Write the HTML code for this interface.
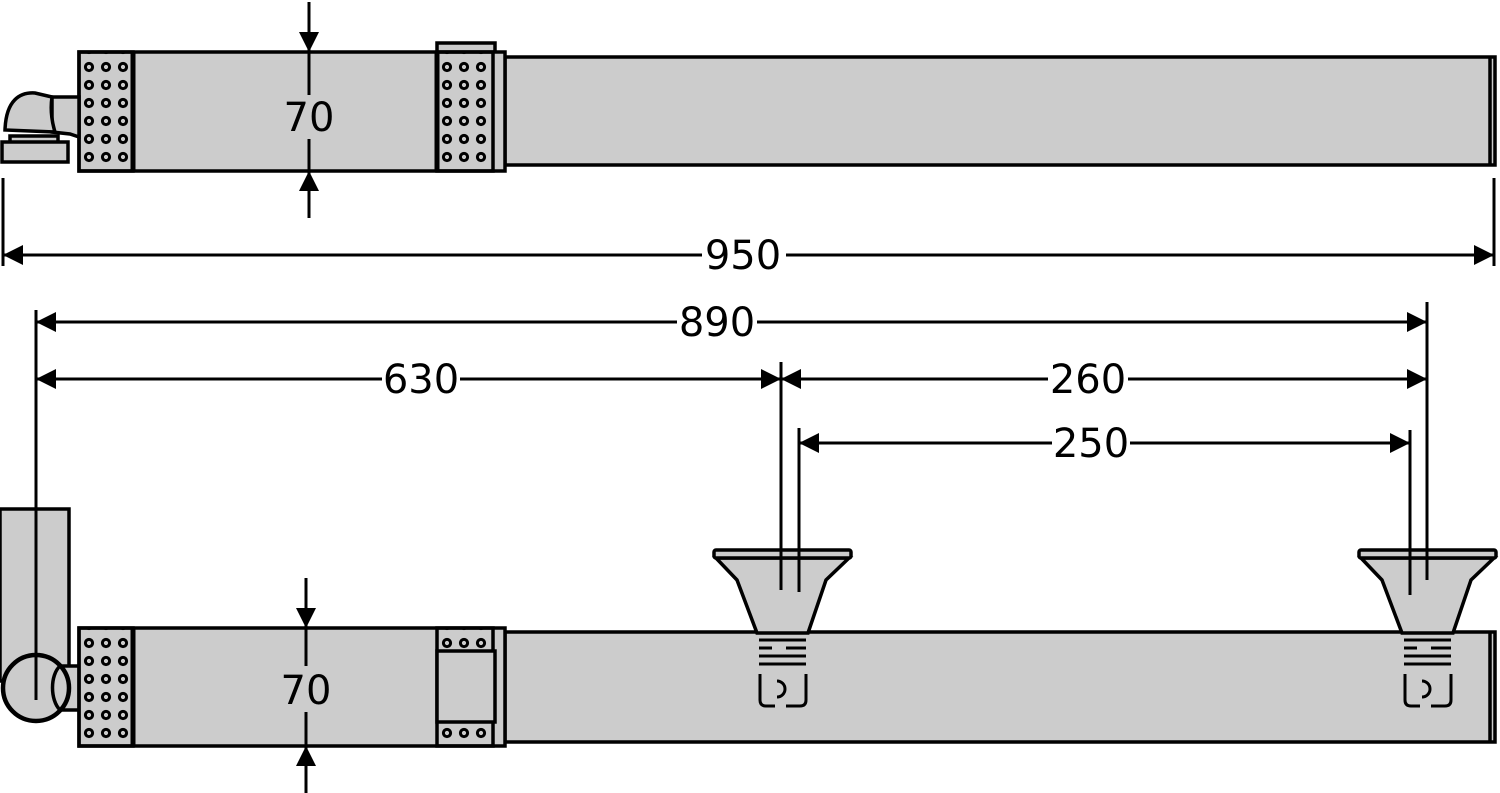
<!DOCTYPE html>
<html><head><style>body{margin:0;background:#fff}svg{display:block}</style></head><body>
<svg width="1500" height="793" viewBox="0 0 1500 793" xmlns="http://www.w3.org/2000/svg" font-family="'DejaVu Sans','Liberation Sans',sans-serif">
<defs>
<marker id="a" viewBox="0 0 10 10" refX="10" refY="5" markerWidth="20" markerHeight="20" markerUnits="userSpaceOnUse" orient="auto-start-reverse"><path d="M0,0 L10,5 L0,10z" fill="#000"/></marker>
<pattern id="dots" x="79" y="58" width="17" height="18" patternUnits="userSpaceOnUse"><circle cx="10" cy="9" r="3.6" fill="none" stroke="#000" stroke-width="3"/></pattern>
<pattern id="dots2" x="437" y="58" width="17" height="18" patternUnits="userSpaceOnUse"><circle cx="10" cy="9" r="3.6" fill="none" stroke="#000" stroke-width="3"/></pattern>
<pattern id="dots3" x="79" y="634" width="17" height="18" patternUnits="userSpaceOnUse"><circle cx="10" cy="9" r="3.6" fill="none" stroke="#000" stroke-width="3"/></pattern>
<pattern id="dots4" x="437" y="634" width="17" height="18" patternUnits="userSpaceOnUse"><circle cx="10" cy="9" r="3.6" fill="none" stroke="#000" stroke-width="3"/></pattern>
</defs>
<g stroke="#000" stroke-width="3.5" fill="#ccc">
<rect x="505" y="57" width="990" height="108"/>
<line x1="1490" y1="57" x2="1490" y2="165"/>
<rect x="437" y="43" width="58" height="10"/>
<rect x="79" y="52" width="426" height="119"/>
<rect x="79" y="52" width="54" height="119" fill="url(#dots)"/>
<rect x="437" y="52" width="56" height="119" fill="url(#dots2)"/>
<line x1="133" y1="52" x2="133" y2="171" stroke-width="5"/>
<line x1="437" y1="52" x2="437" y2="171" stroke-width="5"/>
<path d="M52,97 L79,97 L79,137 L70,134 L52,132z"/>
<path d="M5,130 C6,100 20,92 35,93 L52,97 C50,110 52,122 55,132 Z"/>
<rect x="10" y="136" width="48" height="7"/>
<rect x="2" y="142" width="66" height="20"/>
<rect x="505" y="632" width="990" height="110"/>
<line x1="1490" y1="632" x2="1490" y2="742"/>
<rect x="0" y="509" width="69" height="172"/>
<rect x="52" y="666" width="28" height="44"/>
<circle cx="36" cy="688" r="33" stroke-width="4.5"/>
<path d="M60,666 C50,675 50,700 60,710" fill="none"/>
<rect x="79" y="628" width="426" height="118"/>
<rect x="79" y="628" width="54" height="118" fill="url(#dots3)"/>
<rect x="437" y="628" width="56" height="118" fill="url(#dots4)"/>
<rect x="437" y="651" width="58" height="71"/>
<line x1="133" y1="628" x2="133" y2="746" stroke-width="5"/>
<g id="f">
<path d="M716,558 L737,580 L757,633 L808,633 L826,580 L849,558Z"/>
<rect x="714" y="550" width="137" height="8" rx="2"/>
<g fill="none" stroke-width="3">
<path d="M759,640 H806 M759,648 H772 M786,648 H806 M759,656 H806 M759,664 H806"/>
<path d="M760,674 V700 Q760,706 766,706 H775 M786,706 H800 Q806,706 806,700 V674"/>
<path d="M777,681 A8,8 0 1 1 777,697"/>
</g>
</g>
<use href="#f" x="645"/>
</g>
<g stroke="#000" stroke-width="3" fill="none">
<line x1="309" y1="2" x2="309" y2="52" marker-end="url(#a)"/>
<line x1="309" y1="218" x2="309" y2="171" marker-end="url(#a)"/>
<line x1="309" y1="52" x2="309" y2="95"/><line x1="309" y1="139" x2="309" y2="171"/>
<line x1="306" y1="578" x2="306" y2="628" marker-end="url(#a)"/>
<line x1="306" y1="793" x2="306" y2="746" marker-end="url(#a)"/>
<line x1="306" y1="628" x2="306" y2="666"/><line x1="306" y1="712" x2="306" y2="746"/>
<line x1="3" y1="178" x2="3" y2="266"/><line x1="1494" y1="178" x2="1494" y2="266"/>
<line x1="3" y1="255" x2="702" y2="255" marker-start="url(#a)"/>
<line x1="786" y1="255" x2="1494" y2="255" marker-end="url(#a)"/>
<line x1="36" y1="310" x2="36" y2="700"/>
<line x1="1427" y1="302" x2="1427" y2="580"/>
<line x1="781" y1="362" x2="781" y2="590"/>
<line x1="799" y1="428" x2="799" y2="592"/>
<line x1="1410" y1="430" x2="1410" y2="595"/>
<line x1="36" y1="322" x2="677" y2="322" marker-start="url(#a)"/>
<line x1="757" y1="322" x2="1427" y2="322" marker-end="url(#a)"/>
<line x1="36" y1="379" x2="382" y2="379" marker-start="url(#a)"/>
<line x1="460" y1="379" x2="781" y2="379" marker-end="url(#a)"/>
<line x1="781" y1="379" x2="1048" y2="379" marker-start="url(#a)"/>
<line x1="1128" y1="379" x2="1427" y2="379" marker-end="url(#a)"/>
<line x1="799" y1="443" x2="1052" y2="443" marker-start="url(#a)"/>
<line x1="1130" y1="443" x2="1410" y2="443" marker-end="url(#a)"/>
</g>
<g font-size="40" text-anchor="middle" fill="#000">
<text x="309" y="131">70</text>
<text x="306" y="704">70</text>
<text x="743" y="269">950</text>
<text x="717" y="336">890</text>
<text x="421" y="393">630</text>
<text x="1088" y="393">260</text>
<text x="1091" y="457">250</text>
</g>
</svg>
</body></html>
